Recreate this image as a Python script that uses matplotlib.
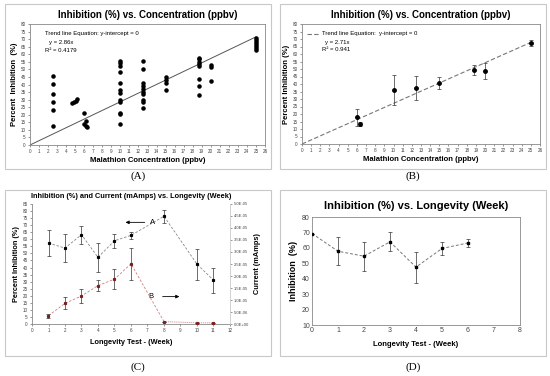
import numpy as np
import matplotlib.pyplot as plt
from matplotlib.patches import Rectangle
from matplotlib.ticker import FuncFormatter

plt.rcParams['font.family'] = ['Liberation Sans', 'DejaVu Sans']

# (A) all individual measurements
conc_all = [2.5, 2.5, 2.5, 2.5, 2.5, 2.5,
            4.6, 4.9, 5.1, 5.2,
            6.0, 6.2, 6.0, 6.2, 6.35,
            10, 10, 10, 10, 10, 10, 10, 10, 10, 10, 10, 10,
            12.5, 12.5, 12.5, 12.5, 12.5, 12.5, 12.5, 12.5, 12.5, 12.5,
            15, 15, 15, 15,
            18.75, 18.75, 18.75, 18.75, 18.75, 18.75, 18.75, 18.75,
            20, 20, 20,
            25, 25, 25, 25, 25, 25, 25]
inhib_all = [45.8, 40.3, 33.9, 28.6, 23.3, 12.6,
             27.5, 28.5, 29.0, 30.5,
             21.4, 15.9, 13.7, 12.6, 12.1,
             55.7, 54.4, 52.4, 48.0, 40.7, 36.3, 34.6, 29.7, 28.6, 21.4, 20.3, 13.7,
             55.3, 50.2, 40.7, 39.0, 37.0, 35.2, 33.7, 29.7, 28.2, 24.7,
             44.7, 43.0, 41.2, 36.6,
             57.7, 56.6, 55.1, 53.7, 52.4, 43.8, 39.0, 33.0,
             52.6, 51.3, 42.3,
             70.5, 69.2, 67.8, 66.5, 65.2, 63.9, 62.6]
slope_a = 2.86

# (B) means with standard deviation
conc_mean = [6, 6.3, 10, 12.5, 15, 18.75, 20, 25]
inhib_mean = [17.7, 13.3, 35.7, 37.5, 40.8, 49.2, 48.8, 67.6]
inhib_sd = [5.5, 1.5, 10, 8, 4, 3.3, 5.5, 2]
slope_b = 2.71

# (C) longevity: inhibition and current
weeks_c = [1, 2, 3, 4, 5, 6, 8, 10, 11]
inhib_c = [57.3, 53.8, 63.3, 47.2, 59.0, 62.8, 76.3, 42.4, 31.0]
inhib_c_sd = [9, 9.6, 6.3, 10.3, 5, 2.7, 4.7, 11, 8.7]
current_c = [3.5e-6, 8.6e-6, 1.17e-5, 1.6e-5, 1.87e-5, 2.51e-5, 1.0e-6, 5e-7, 5e-7]
current_c_sd = [8e-7, 2.5e-6, 2.9e-6, 2.3e-6, 4.1e-6, 6.6e-6, 0, 0, 0]

# (D) longevity: inhibition only
weeks_d = [0, 1, 2, 3, 4, 5, 6]
inhib_d = [69.3, 57.8, 54.6, 63.9, 47.5, 59.6, 63.2]
inhib_d_sd = [0, 9, 9.5, 6.2, 10, 4.5, 2.7]

W, H = 550, 376
fig = plt.figure(figsize=(5.5, 3.76), dpi=100)


def fbox(x0, y0, x1, y1):
    # pixel box (top-left origin) -> figure fraction [l, b, w, h]
    return [x0 / W, 1 - y1 / H, (x1 - x0) / W, (y1 - y0) / H]


frame_col = '#c8c8c8'
for x0, y0, x1, y1 in [(5, 4, 271, 169), (280, 4, 546, 169),
                       (5, 190, 271, 356), (280, 190, 546, 356)]:
    l, b, w, h = fbox(x0, y0, x1, y1)
    fig.add_artist(Rectangle((l, b), w, h, transform=fig.transFigure,
                             fill=False, ec=frame_col, lw=0.8))

for txt, x, y in [('(A)', 138, 176), ('(B)', 413, 176), ('(C)', 138, 367), ('(D)', 413, 367)]:
    fig.text(x / W, 1 - y / H, txt, ha='center', va='center', fontsize=8,
             family=['Liberation Serif', 'DejaVu Serif'])


def style_axes(ax, tick_fs):
    for s in ax.spines.values():
        s.set_color('#888888')
        s.set_linewidth(0.6)
    ax.tick_params(labelsize=tick_fs, length=1.5, width=0.4, pad=1.5, colors='#444444')


# ---- (A)
ax = fig.add_axes(fbox(30, 24, 265, 145))
ax.scatter(conc_all, inhib_all, s=5, color='black', zorder=3)
xx = np.array([0, 25])
ax.plot(xx, slope_a * xx, color='#555555', lw=0.7)
ax.set_xlim(0, 26)
ax.set_ylim(0, 80)
ax.set_xticks(range(0, 27))
ax.set_yticks(range(0, 81, 5))
style_axes(ax, 3.3)
ax.set_title('Inhibition (%) vs. Concentration (ppbv)', fontsize=7, fontweight='bold', pad=4)
ax.set_xlabel('Malathion Concentration (ppbv)', fontsize=5.5, fontweight='bold', labelpad=2)
ax.set_ylabel('Percent  Inhibition  (%)', fontsize=5.5, fontweight='bold', labelpad=2)
ax.text(1.65, 73.8, 'Trend line Equation: y-intercept = 0', fontsize=4.3, va='center')
ax.text(2.1, 67.6, 'y = 2.86x', fontsize=4.3, va='center')
ax.text(1.65, 62.3, 'R² = 0.4179', fontsize=4.3, va='center')

# ---- (B)
ax = fig.add_axes(fbox(302, 24, 540, 144))
ax.errorbar(conc_mean, inhib_mean, yerr=inhib_sd, fmt='o', ms=2.5, color='black',
            ecolor='#333333', elinewidth=0.5, capsize=1.2, capthick=0.5, zorder=3)
ax.plot(xx, slope_b * xx, color='#777777', lw=0.8, ls=(0, (4, 2)))
ax.set_xlim(0, 26)
ax.set_ylim(0, 80)
ax.set_xticks(range(0, 27))
ax.set_yticks(range(0, 81, 5))
style_axes(ax, 3.3)
ax.set_title('Inhibition (%) vs. Concentration (ppbv)', fontsize=7, fontweight='bold', pad=4)
ax.set_xlabel('Malathion Concentration (ppbv)', fontsize=5.5, fontweight='bold', labelpad=2)
ax.set_ylabel('Percent Inhibition (%)', fontsize=5.5, fontweight='bold', labelpad=2)
ax.plot([0.55, 1.9], [73.4, 73.4], color='#777777', lw=0.8, ls=(0, (4, 2)))
ax.text(2.2, 73.4, 'Trend line Equation:  y-intercept = 0', fontsize=4.3, va='center')
ax.text(2.5, 67.6, 'y = 2.71x', fontsize=4.3, va='center')
ax.text(2.2, 62.7, 'R² = 0.941', fontsize=4.3, va='center')

# ---- (C)
ax = fig.add_axes(fbox(32, 204, 230, 324))
ax.errorbar(weeks_c, inhib_c, yerr=inhib_c_sd, fmt='s', ms=1.3, color='black',
            ecolor='#333333', elinewidth=0.5, capsize=1.2, capthick=0.5, zorder=3)
ax.plot(weeks_c, inhib_c, color='#888888', lw=0.6, ls=(0, (3, 2)))
ax.set_xlim(0, 12)
ax.set_ylim(0, 85)
ax.set_xticks(range(0, 13))
ax.set_yticks(range(0, 86, 5))
style_axes(ax, 3.3)
ax.spines['top'].set_visible(False)
ax.set_title('Inhibition (%) and Current (mAmps) vs. Longevity (Week)', fontsize=5.3,
             fontweight='bold', pad=4)
ax.set_xlabel('Longevity Test - (Week)', fontsize=5.3, fontweight='bold', labelpad=4)
ax.set_ylabel('Percent Inhibition (%)', fontsize=5.3, fontweight='bold', labelpad=2)
ax.annotate('', xy=(5.5, 72), xytext=(7.0, 72),
            arrowprops=dict(arrowstyle='-|>', color='black', lw=0.6, mutation_scale=5))
ax.text(7.3, 72, 'A', fontsize=5.5, va='center', ha='center')
ax.text(7.2, 19.4, 'B', fontsize=5.5, va='center', ha='center')
ax.annotate('', xy=(9.1, 19.4), xytext=(7.75, 19.4),
            arrowprops=dict(arrowstyle='-|>', color='black', lw=0.6, mutation_scale=5))

ax2 = ax.twinx()
ax2.errorbar(weeks_c, current_c, yerr=current_c_sd, fmt='s', ms=1.3, color='#7a1f1f',
             ecolor='#333333', elinewidth=0.5, capsize=1.2, capthick=0.5, zorder=3)
ax2.plot(weeks_c[:7], current_c[:7], color='#d08080', lw=0.6, ls=(0, (3, 2)))
ax2.plot(weeks_c[6:], current_c[6:], color='#d08080', lw=0.7, ls=(0, (1, 1)))
ax2.set_ylim(0, 5e-5)
ax2.set_yticks(np.arange(0, 5.01e-5, 5e-6))
ax2.yaxis.set_major_formatter(FuncFormatter(lambda v, p: f'{v:.1E}'.replace('E-0', 'E-0').replace('E+00', 'E+00')))
style_axes(ax2, 3.0)
ax2.spines['top'].set_visible(False)
ax2.spines['left'].set_visible(False)
ax2.spines['bottom'].set_visible(False)
ax2.spines['right'].set_color('#dddddd')
ax2.set_ylabel('Current (mAmps)', fontsize=5.3, fontweight='bold', rotation=90, labelpad=3)

# ---- (D)
ax = fig.add_axes(fbox(312, 217, 520, 325))
ax.errorbar(weeks_d, inhib_d, yerr=inhib_d_sd, fmt='s', ms=1.5, color='black',
            ecolor='#333333', elinewidth=0.5, capsize=1.2, capthick=0.5, zorder=3)
ax.plot(weeks_d, inhib_d, color='#777777', lw=0.7, ls=(0, (3, 2)))
ax.set_xlim(0, 8)
ax.set_ylim(10, 80)
ax.set_xticks(range(0, 9))
ax.set_yticks(range(10, 81, 10))
style_axes(ax, 5)
ax.tick_params(length=0)
ax.set_title('Inhibition (%) vs. Longevity (Week)', fontsize=8, fontweight='bold', pad=6)
ax.set_xlabel('Longevity Test - (Week)', fontsize=5.5, fontweight='bold', labelpad=5)
ax.set_ylabel('Inhibition  (%)', fontsize=6.5, fontweight='bold', labelpad=3)

fig.savefig('out.png', dpi=100)
